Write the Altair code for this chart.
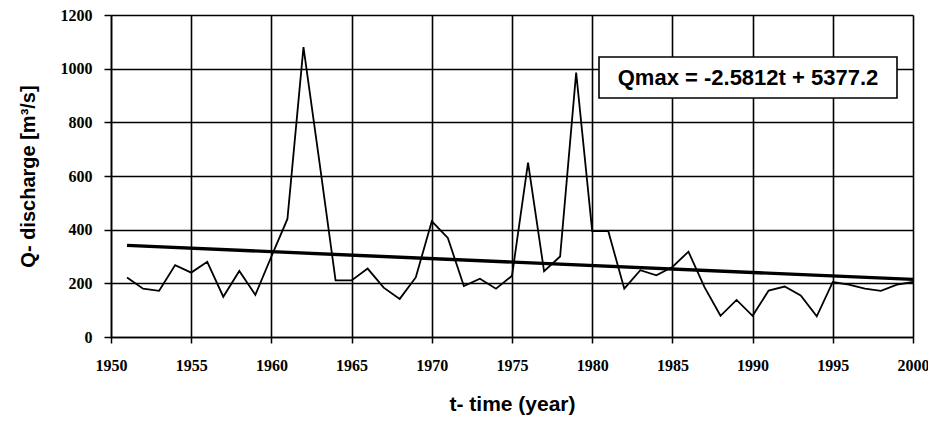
import altair as alt
import pandas as pd

years = list(range(1951, 2001))
discharge = [222, 180, 172, 268, 240, 280, 150, 246, 157, 300,
             440, 1080, 650, 211, 211, 255, 184, 142, 222, 431,
             369, 190, 217, 180, 228, 650, 245, 300, 985, 395,
             395, 180, 249, 230, 261, 318, 186, 79, 138, 79,
             173, 188, 155, 77, 205, 195, 180, 172, 195, 205]
trend_years = [1951, 2000]
trend_values = [341.3, 214.8]
x_ticks = list(range(1950, 2001, 5))
y_ticks = list(range(0, 1201, 200))
equation = "Qmax = -2.5812t + 5377.2"

df = pd.DataFrame({"year": years, "Q": discharge})
tdf = pd.DataFrame({"year": trend_years, "Q": trend_values})
ann = pd.DataFrame({"label": [equation]})

xscale = alt.Scale(domain=[1950, 2000], nice=False, zero=False)
yscale = alt.Scale(domain=[0, 1200], nice=False)

xaxis = alt.Axis(values=x_ticks, format="d", title="t- time (year)",
                 labelFont="Liberation Serif", labelFontWeight="bold", labelFontSize=16,
                 labelColor="black", tickColor="black", tickSize=6, tickWidth=1.5,
                 domainColor="black", domainWidth=1.5, grid=True, gridColor="black",
                 gridWidth=1.6, gridOpacity=1, labelPadding=14, labelFlush=False,
                 titleFont="Liberation Sans", titleFontSize=21, titleFontWeight="bold",
                 titleColor="black", titlePadding=20)
yaxis = alt.Axis(values=y_ticks, format="d", title="Q- discharge [m³/s]",
                 labelFont="Liberation Serif", labelFontWeight="bold", labelFontSize=16,
                 labelColor="black", tickColor="black", tickSize=7, tickWidth=1.5,
                 domainColor="black", domainWidth=1.5, grid=True, gridColor="black",
                 gridWidth=1.6, gridOpacity=1, labelPadding=12, labelFlush=False,
                 titleFont="Liberation Sans", titleFontSize=20, titleFontWeight="bold",
                 titleColor="black", titlePadding=22)

line = alt.Chart(df).mark_line(color="black", strokeWidth=1.8).encode(
    x=alt.X("year:Q", scale=xscale, axis=xaxis),
    y=alt.Y("Q:Q", scale=yscale, axis=yaxis),
)
trend = alt.Chart(tdf).mark_line(color="black", strokeWidth=3.4).encode(
    x=alt.X("year:Q", scale=xscale),
    y=alt.Y("Q:Q", scale=yscale),
)
box = alt.Chart(ann).mark_rect(fill="white", stroke="black", strokeWidth=1.6).encode(
    x=alt.value(488), x2=alt.value(786), y=alt.value(42), y2=alt.value(83)
)
text = alt.Chart(ann).mark_text(font="Liberation Sans", fontWeight="bold", fontSize=22,
                                color="black", align="center", baseline="middle").encode(
    x=alt.value(637), y=alt.value(63), text="label:N"
)

chart = alt.layer(line, trend, box, text).properties(
    width=802, height=322, autosize="none",
    padding={"left": 103, "top": 7, "right": 15, "bottom": 92},
).configure_view(stroke="black", strokeWidth=1.6).configure(background="white")

chart.save("out.html", embed_options={"renderer": "svg", "actions": False})
